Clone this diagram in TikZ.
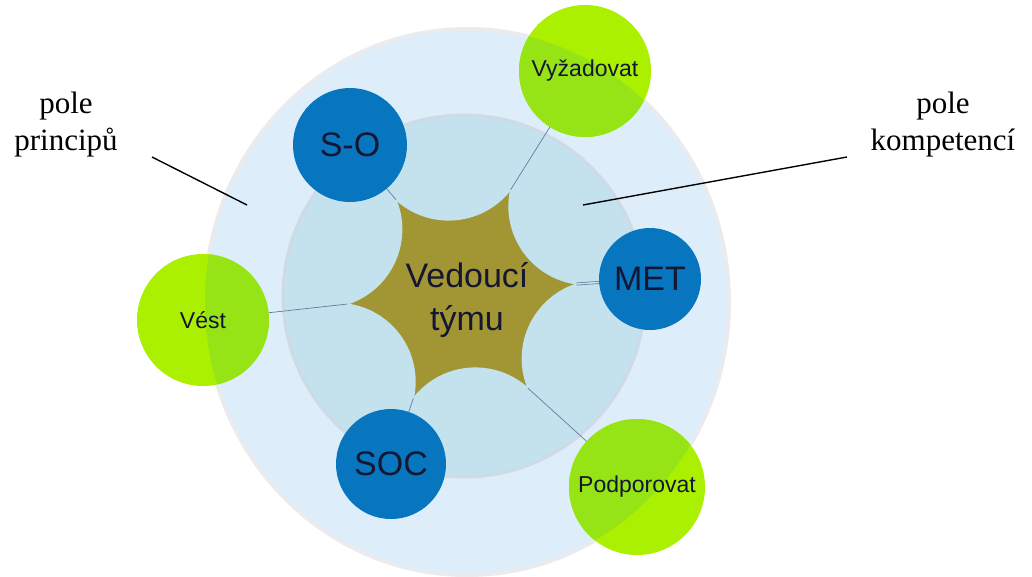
\documentclass[tikz,border=0pt]{standalone}
\usepackage{fontspec}
\setmainfont{Liberation Serif}
\setsansfont{Liberation Sans}

\definecolor{ringblue}{RGB}{221,238,250}
\definecolor{ringedge}{RGB}{233,235,238}
\definecolor{diskblue}{RGB}{196,226,237}
\definecolor{diskedge}{RGB}{206,218,229}
\definecolor{starolive}{RGB}{162,150,52}
\definecolor{roleblue}{RGB}{8,118,190}
\definecolor{limeA}{RGB}{170,240,0}
\definecolor{limeB}{RGB}{150,228,22}
\definecolor{linkgray}{RGB}{95,125,155}
\definecolor{inkblue}{RGB}{20,22,50}

\tikzset{
  role/.style={circle, fill=roleblue, minimum size=#1, inner sep=0pt,
    text=inkblue, font=\sffamily\fontsize{34}{40}\selectfont},
  task/.style={circle, fill=limeA, minimum size=#1, inner sep=0pt,
    path picture={\fill[limeB] (ring) ellipse (262pt and 273pt);},
    text=inkblue, font=\sffamily\fontsize{23}{28}\selectfont},
  link/.style={draw=linkgray, line width=0.7pt},
  field/.style={align=center, font=\fontsize{31}{37}\selectfont},
}

\begin{document}
\begin{tikzpicture}[x=1pt,y=-1pt]
  \useasboundingbox (0,0) rectangle (1032,576);

  % field of principles and field of competences
  \coordinate (ring) at (467,302);
  \coordinate (disk) at (464,296);
  \coordinate (ctr) at (462,294);
  \fill[ringblue, draw=ringedge, line width=4pt] (ring) ellipse (262pt and 273pt);
  \fill[diskblue, draw=diskedge, line width=3pt] (disk) circle (181pt);

  % six-pointed star, cut out by six circles (y points down, so angles run clockwise)
  \fill[starolive] (ctr) circle (121pt);
  \begin{scope}
    \clip (ctr) circle (165pt);
    \foreach \a in {-35,-95,...,-335}
      \fill[diskblue] (ctr) ++(\a:153) circle (79pt);
  \end{scope}
  \foreach \a/\n in {-5/R,-65/TR,-125/TL,-185/L,-245/BL,-305/BR}
    \path (ctr) ++(\a:115) coordinate (tip\n);

  % roles
  \node[role=114pt] (so) at (350,145) {S-O};
  \node[role=102pt] (met) at (650,279) {MET};
  \node[role=110pt] (soc) at (391,464) {SOC};

  % tasks
  \node[task=132pt] (vyz) at (585,71) {Vyžadovat};
  \node[task=132pt] (vest) at (203,320) {Vést};
  \node[task=136pt] (podp) at (637,487) {Podporovat};

  \draw[link] (tipTL) -- (so);
  \draw[link] (tipTR) -- (vyz);
  \draw[link, double=diskblue, double distance=1.5pt] (tipR) -- (met);
  \draw[link] (tipBR) -- (podp);
  \draw[link] (tipBL) -- (soc);
  \draw[link] (tipL) -- (vest);

  \node[text=inkblue, align=center, font=\sffamily\fontsize{34}{43}\selectfont]
    (lead) at (467,300) {Vedoucí\\týmu};

  % labels of the two fields
  \node[field] (princ) at (66,125) {pole\\principů};
  \node[field] (komp) at (943,125) {pole\\kompetencí};
  \coordinate (princA) at (152,157);
  \coordinate (princB) at (247,205);
  \coordinate (kompA) at (847,157);
  \coordinate (kompB) at (583,205);
  \draw[line width=1.4pt] (princA) -- (princB);
  \draw[line width=1.4pt] (kompA) -- (kompB);
\end{tikzpicture}
\end{document}
